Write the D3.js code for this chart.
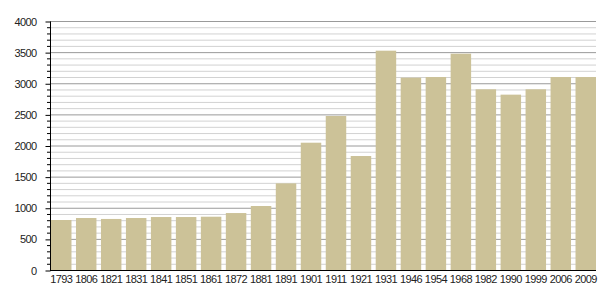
<!DOCTYPE html>
<html><head><meta charset="utf-8">
<script src="https://cdn.jsdelivr.net/npm/d3@7"></script>
<style>body{margin:0;background:#fff}</style>
</head><body>
<svg id="c" width="605" height="300"></svg>
<script>
const years = ["1793","1806","1821","1831","1841","1851","1861","1872","1881","1891","1901","1911","1921","1931","1946","1954","1968","1982","1990","1999","2006","2009"];
const population = [803,835,820,835,851,851,856,915,1028,1392,2045,2474,1831,3523,3090,3100,3475,2903,2817,2903,3100,3100];
const yTicks = [0,500,1000,1500,2000,2500,3000,3500,4000];

const svg = d3.select("#c");
const mLeft = 50, mRight = 596, mTop = 21, mBottom = 270;
const x = d3.scaleBand().domain(years).range([mLeft + 1, mRight]).paddingInner(0.18).paddingOuter(0);
const y = d3.scaleLinear().domain([0, 4000]).range([mBottom, mTop]);
const font = "Liberation Sans, Arial, sans-serif";

const minor = d3.range(0, 4001, 100).filter(v => v % 500 !== 0);
svg.append("g").selectAll("line").data(minor).join("line")
  .attr("x1", mLeft).attr("x2", mRight).attr("y1", d => y(d) + 0.5).attr("y2", d => y(d) + 0.5)
  .attr("stroke", "#d2d2d2").attr("stroke-width", 1);
svg.append("g").selectAll("line").data(yTicks.filter(d => d > 0)).join("line")
  .attr("x1", mLeft).attr("x2", mRight).attr("y1", d => y(d) + 0.5).attr("y2", d => y(d) + 0.5)
  .attr("stroke", "#9a9a9a").attr("stroke-width", 1);

svg.append("g").selectAll("rect").data(population).join("rect")
  .attr("x", (d, i) => x(years[i])).attr("width", x.bandwidth())
  .attr("y", d => y(d)).attr("height", d => y(0) - y(d))
  .attr("fill", "#ccc298");

svg.append("g").selectAll("line").data(minor).join("line")
  .attr("x1", mLeft - 3).attr("x2", mLeft).attr("y1", d => y(d) + 0.5).attr("y2", d => y(d) + 0.5)
  .attr("stroke", "#000");

const yAxis = d3.axisLeft(y).tickValues(yTicks).tickSize(5).tickPadding(9).tickFormat(d3.format("d"));
const gy = svg.append("g").attr("transform", `translate(${mLeft + 0.5},0.5)`).call(yAxis);
gy.select(".domain").attr("d", `M0,${mTop}V${mBottom}`).attr("stroke", "#000");
gy.selectAll("text").attr("font-family", font).attr("font-size", 11).attr("letter-spacing", "-0.6px").attr("fill", "#222");

const xAxis = d3.axisBottom(x).tickSize(0).tickPadding(5);
const gx = svg.append("g").attr("transform", `translate(0,${mBottom + 0.5})`).call(xAxis);
gx.select(".domain").attr("d", `M${mLeft},0H${mRight}`).attr("stroke", "#000").attr("stroke-width", 1.2);
gx.selectAll("text").attr("font-family", font).attr("font-size", 11).attr("letter-spacing", "-0.6px").attr("fill", "#222");
</script>
</body></html>
